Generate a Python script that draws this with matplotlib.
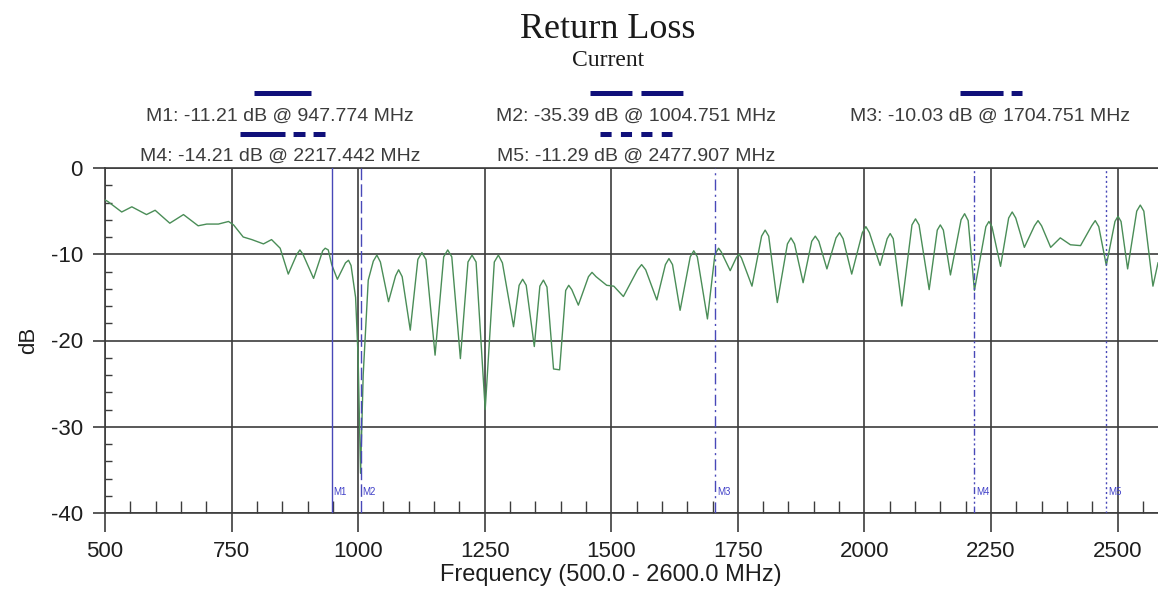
import matplotlib
matplotlib.use("Agg")
import matplotlib.pyplot as plt
from matplotlib.lines import Line2D
from matplotlib.ticker import MultipleLocator

plt.rcParams["font.family"] = ["Liberation Sans", "DejaVu Sans"]
plt.rcParams["lines.scale_dashes"] = False
plt.rcParams["axes.unicode_minus"] = False

# trace (MHz, dB), one row per ~span
freq_mhz = [500, 506, 533, 553, 582, 599, 628, 655, 684, 701, 724, 744, 754,
            773, 790, 813, 829, 846, 862, 879, 885, 891, 912, 930, 935, 941,
            947.8, 959, 975, 981, 986, 995, 1000, 1004.8, 1010, 1020,
            1030, 1037, 1044, 1060, 1074, 1080, 1087, 1103, 1118, 1126, 1134,
            1152, 1169, 1177, 1185, 1202, 1217, 1225, 1233, 1251, 1269, 1277, 1285,
            1307, 1318, 1325, 1332, 1348, 1359, 1366, 1373, 1386, 1398, 1410, 1416,
            1422, 1435, 1455, 1462, 1470, 1491, 1505, 1524, 1552, 1560, 1568,
            1590, 1607, 1614, 1621, 1636, 1656, 1663, 1670, 1690, 1704.8, 1712, 1717,
            1735, 1747, 1752, 1757, 1778, 1797, 1804, 1811, 1828, 1848, 1855, 1862,
            1879, 1896, 1903, 1910, 1926, 1944, 1951, 1958, 1975, 1996, 2003, 2010,
            2031, 2045, 2051, 2057, 2074, 2094, 2101, 2108, 2128, 2144, 2150, 2156,
            2170, 2191, 2198, 2205, 2217.4, 2240, 2246, 2252, 2269, 2285, 2292, 2299,
            2316, 2336, 2343, 2350, 2368, 2387, 2407, 2427, 2449, 2456, 2463,
            2477.9, 2495, 2501, 2507, 2520, 2538, 2545, 2552, 2570, 2580]
rl_db = [-3.7, -3.9, -5.1, -4.5, -5.4, -4.9, -6.4, -5.4, -6.7, -6.5, -6.5, -6.2, -6.6,
         -8.0, -8.3, -8.8, -8.3, -9.3, -12.3, -10.0, -9.5, -10.0, -12.8, -9.6, -9.3, -9.5,
         -11.2, -12.9, -11.0, -10.7, -11.3, -15.0, -22.0, -35.4, -24.0, -13.0,
         -10.8, -10.1, -10.9, -15.5, -12.5, -11.8, -12.6, -18.8, -10.6, -9.8, -10.6,
         -21.7, -10.3, -9.5, -10.3, -22.1, -10.9, -10.1, -10.9, -28.0, -10.9, -10.1, -11.0,
         -18.4, -13.6, -12.9, -13.6, -20.7, -13.7, -13.0, -13.8, -23.3, -23.4, -14.2, -13.6,
         -14.1, -15.9, -12.6, -12.1, -12.6, -13.6, -13.7, -14.9, -11.8, -11.2, -11.8,
         -15.3, -11.2, -10.5, -11.2, -16.5, -10.3, -9.6, -10.3, -17.5, -10.0, -9.3, -9.7,
         -11.9, -10.4, -10.0, -10.4, -13.7, -7.9, -7.2, -7.9, -15.6, -8.8, -8.1, -8.8,
         -13.3, -8.5, -7.9, -8.5, -11.7, -8.1, -7.5, -8.2, -12.3, -7.5, -6.8, -7.5,
         -11.3, -8.2, -7.6, -8.2, -16.0, -6.6, -5.9, -6.6, -14.1, -7.2, -6.6, -7.2,
         -12.4, -6.0, -5.3, -6.1, -14.2, -6.8, -6.2, -6.8, -11.4, -5.8, -5.1, -5.8,
         -9.2, -6.7, -6.1, -6.7, -9.2, -8.1, -8.9, -9.0, -6.7, -6.1, -6.8,
         -11.3, -6.2, -5.6, -6.2, -11.7, -5.0, -4.3, -5.0, -13.7, -11.0]
assert len(freq_mhz) == len(rl_db)

marker_names = ["M1", "M2", "M3", "M4", "M5"]
marker_freq = [947.774, 1004.751, 1704.751, 2217.442, 2477.907]
marker_db = [-11.21, -35.39, -10.03, -14.21, -11.29]

W, H = 1158, 589
fig = plt.figure(figsize=(W / 100, H / 100), dpi=100)
ax = fig.add_axes([105 / W, 76 / H, 1053 / W, 345 / H])


def fx(px):
    return px / W


def fy(py):
    return 1 - py / H


grid_c = "#3c3c3c"
ax.plot(freq_mhz, rl_db, color="#4a8d57", lw=1.0, zorder=3)

ax.set_xlim(500, 2580)
ax.set_ylim(-40, 0)
ax.xaxis.set_major_locator(MultipleLocator(250))
ax.xaxis.set_minor_locator(MultipleLocator(50))
ax.yaxis.set_major_locator(MultipleLocator(10))
ax.yaxis.set_minor_locator(MultipleLocator(2))
ax.grid(True, which="major", color=grid_c, lw=1.2, zorder=1)

ax.spines["right"].set_visible(False)
for s in ["left", "bottom", "top"]:
    ax.spines[s].set_color(grid_c)
    ax.spines[s].set_linewidth(1.2)

ax.tick_params(axis="x", which="major", direction="out", length=14, width=1.2,
               pad=6, labelsize=16, color=grid_c, labelcolor="#1e1e1e")
ax.tick_params(axis="x", which="minor", direction="in", length=9, width=1.0, color=grid_c)
ax.tick_params(axis="y", which="major", direction="out", length=9, width=1.2,
               pad=7, labelsize=16, color=grid_c, labelcolor="#1e1e1e")
ax.tick_params(axis="y", which="minor", direction="in", length=5, width=1.0, color=grid_c)
ax.set_ylabel("dB", fontsize=16, color="#1e1e1e", labelpad=8)

# marker lines on the plot
vstyles = ["-", (0, (9, 3)), (0, (8, 3, 1.5, 3)), (0, (5, 2, 1.5, 2, 1.5, 2)), (0, (1.5, 2))]
for name, f, ls in zip(marker_names, marker_freq, vstyles):
    ax.axvline(f, color="#4848b8", lw=1.0, ls=ls, zorder=4)
    ax.text(f + 4, -37.6, name, fontsize=7, color="#4040c8", va="center", ha="left")

# title
fig.text(fx(608), fy(30), "Return Loss", family="Liberation Serif", fontsize=26,
         ha="center", va="center", color="#1a1a1a")
fig.text(fx(608), fy(60), "Current", family="Liberation Serif", fontsize=17,
         ha="center", va="center", color="#1a1a1a")

# marker readouts with line samples
text_pos = [(280, 116), (636, 116), (990, 116), (280, 156), (636, 156)]
sample_pos = [(254, 311, 93), (590, 684, 93), (960, 1022, 93), (240, 325, 134), (600, 672, 134)]
sample_styles = ["-", (0, (30.2, 6.5)), (0, (31, 5.8, 8, 5.8)),
                 (0, (32.4, 5.8, 8.6, 5.8, 8.6, 5.8)), (0, (8, 6.7))]
for name, f, db, tp, sp, ls in zip(marker_names, marker_freq, marker_db,
                                   text_pos, sample_pos, sample_styles):
    fig.text(fx(tp[0]), fy(tp[1]), f"{name}: {db:.2f} dB @ {f:.3f} MHz",
             fontsize=14, ha="center", va="center", color="#3c3c3c")
    fig.add_artist(Line2D([fx(sp[0]), fx(sp[1])], [fy(sp[2]), fy(sp[2])],
                          transform=fig.transFigure, color="#10107a", lw=3.6,
                          ls=ls, solid_capstyle="butt", dash_capstyle="butt"))

fig.text(fx(611), fy(575), "Frequency (500.0 - 2600.0 MHz)", fontsize=17,
         ha="center", va="center", color="#1e1e1e")

fig.savefig("out.png", dpi=100, facecolor="white")
